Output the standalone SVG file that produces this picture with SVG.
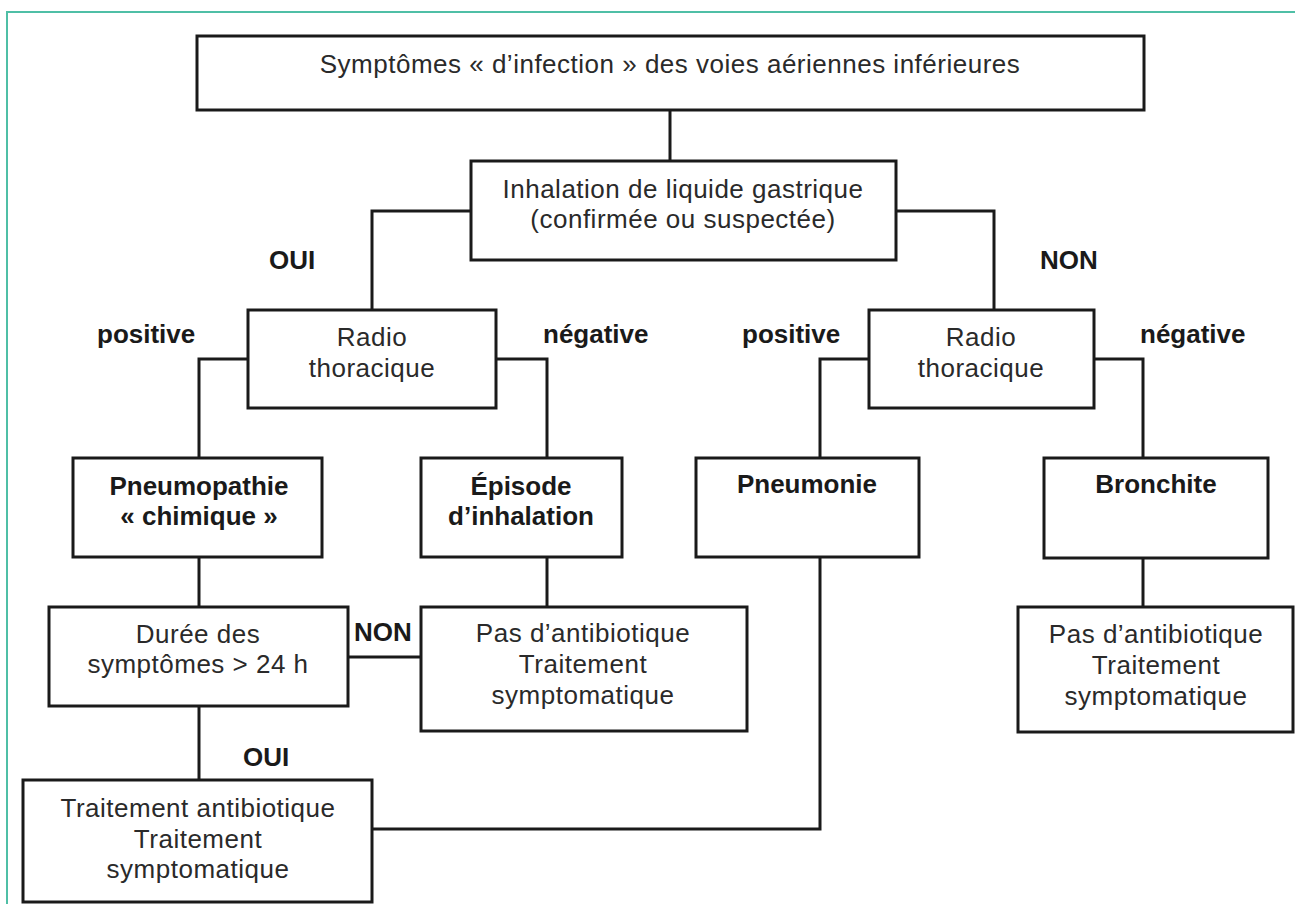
<svg xmlns="http://www.w3.org/2000/svg" width="1295" height="904" viewBox="0 0 1295 904">
<style>
.box{fill:#fff;stroke:#1a1a1a;stroke-width:3}
.ln{fill:none;stroke:#1a1a1a;stroke-width:3}
.t{font-family:"Liberation Sans",Arial,sans-serif;font-size:26px;letter-spacing:0.5px;fill:#2a2a2a;text-anchor:middle}
.b{font-family:"Liberation Sans",Arial,sans-serif;font-size:26px;font-weight:bold;fill:#1a1a1a;text-anchor:middle}
.lb{font-family:"Liberation Sans",Arial,sans-serif;font-size:26px;font-weight:bold;fill:#1a1a1a}
.frame{fill:none;stroke:#4fbfa6;stroke-width:2}
</style>
<rect width="1295" height="904" fill="#fff"/>
<path class="frame" d="M7 904 V12 H1295"/>
<g id="connectors">
<path class="ln" d="M670 110 V161"/>
<path class="ln" d="M471 211 H372 V310"/>
<path class="ln" d="M896 211 H994 V310"/>
<path class="ln" d="M248 359 H199 V458"/>
<path class="ln" d="M496 359 H547 V458"/>
<path class="ln" d="M869 359 H820 V458"/>
<path class="ln" d="M1094 359 H1143 V458"/>
<path class="ln" d="M199 557 V607"/>
<path class="ln" d="M348 657 H421"/>
<path class="ln" d="M547 557 V607"/>
<path class="ln" d="M199 706 V780"/>
<path class="ln" d="M820 557 V829 H372"/>
<path class="ln" d="M1143 558 V607"/>
<text class="lb" x="269" y="269">OUI</text>
<text class="lb" x="1040" y="269">NON</text>
<text class="lb" x="97" y="343">positive</text>
<text class="lb" x="543" y="343">négative</text>
<text class="lb" x="742" y="343">positive</text>
<text class="lb" x="1140" y="343">négative</text>
<text class="lb" x="354" y="641">NON</text>
<text class="lb" x="243" y="766">OUI</text>
</g>
<g id="n-symptomes">
<rect class="box" x="197" y="36" width="947" height="74"/>
<text class="t" x="670" y="73">Symptômes « d’infection » des voies aériennes inférieures</text>
</g>
<g id="n-inhalation">
<rect class="box" x="471" y="161" width="425" height="99"/>
<text class="t" x="683" y="198">Inhalation de liquide gastrique</text>
<text class="t" x="683" y="228">(confirmée ou suspectée)</text>
</g>
<g id="n-radio-oui">
<rect class="box" x="248" y="310" width="248" height="98"/>
<text class="t" x="372" y="346">Radio</text>
<text class="t" x="372" y="377">thoracique</text>
</g>
<g id="n-radio-non">
<rect class="box" x="869" y="310" width="225" height="98"/>
<text class="t" x="981" y="346">Radio</text>
<text class="t" x="981" y="377">thoracique</text>
</g>
<g id="n-pneumopathie">
<rect class="box" x="73" y="458" width="249" height="99"/>
<text class="b" x="199" y="495">Pneumopathie</text>
<text class="b" x="199" y="525">« chimique »</text>
</g>
<g id="n-episode">
<rect class="box" x="421" y="458" width="201" height="99"/>
<text class="b" x="521" y="495">Épisode</text>
<text class="b" x="521" y="525">d’inhalation</text>
</g>
<g id="n-pneumonie">
<rect class="box" x="696" y="458" width="223" height="99"/>
<text class="b" x="807" y="493">Pneumonie</text>
</g>
<g id="n-bronchite">
<rect class="box" x="1044" y="458" width="224" height="100"/>
<text class="b" x="1156" y="493">Bronchite</text>
</g>
<g id="n-duree">
<rect class="box" x="49" y="607" width="299" height="99"/>
<text class="t" x="198" y="643">Durée des</text>
<text class="t" x="198" y="673">symptômes &gt; 24 h</text>
</g>
<g id="n-pas-atb-1">
<rect class="box" x="421" y="607" width="326" height="124"/>
<text class="t" x="583" y="642">Pas d’antibiotique</text>
<text class="t" x="583" y="673">Traitement</text>
<text class="t" x="583" y="704">symptomatique</text>
</g>
<g id="n-pas-atb-2">
<rect class="box" x="1018" y="607" width="275" height="125"/>
<text class="t" x="1156" y="643">Pas d’antibiotique</text>
<text class="t" x="1156" y="674">Traitement</text>
<text class="t" x="1156" y="705">symptomatique</text>
</g>
<g id="n-traitement">
<rect class="box" x="23" y="780" width="349" height="122"/>
<text class="t" x="198" y="817">Traitement antibiotique</text>
<text class="t" x="198" y="848">Traitement</text>
<text class="t" x="198" y="878">symptomatique</text>
</g>
</svg>
